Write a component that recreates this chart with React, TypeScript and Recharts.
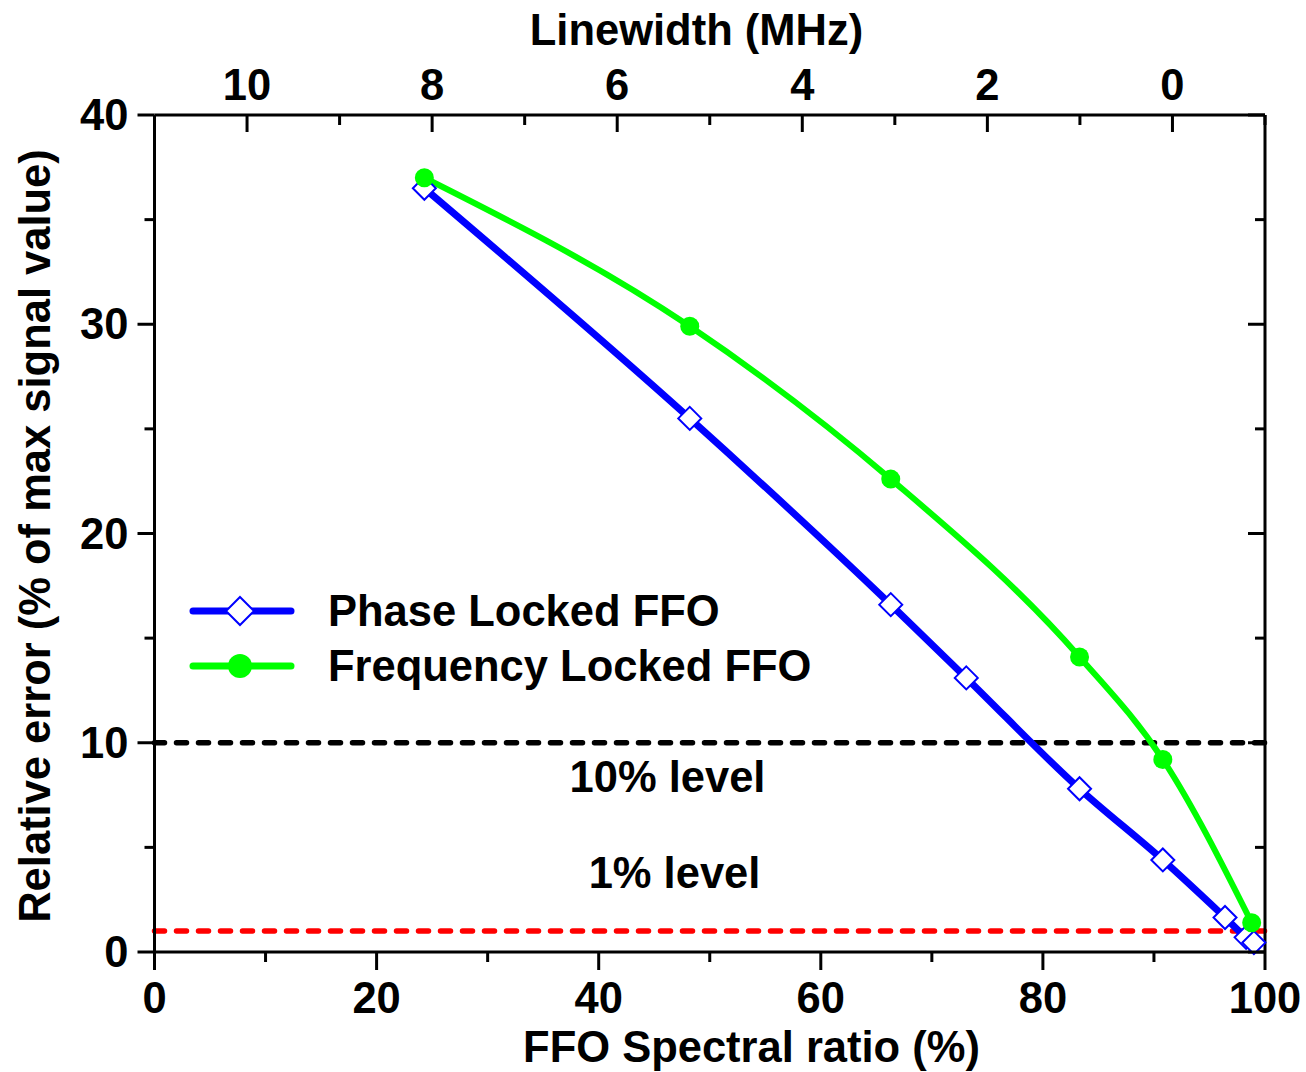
import { LineChart, Line, XAxis, YAxis, ReferenceLine, Legend } from 'recharts'

const FONT = "'Liberation Sans', Arial, Helvetica, sans-serif"
const BLUE = '#0000ff'
const GREEN = '#00ff00'

// axes
const ratioTicks = [0, 10, 20, 30, 40, 50, 60, 70, 80, 90, 100]
const ratioLabels = [0, 20, 40, 60, 80, 100]
const errorTicks = [0, 5, 10, 15, 20, 25, 30, 35, 40]
const errorLabels = [0, 10, 20, 30, 40]
const linewidthTicks = [11, 10, 9, 8, 7, 6, 5, 4, 3, 2, 1, 0, -1]
const linewidthLabels = [10, 8, 6, 4, 2, 0]

// series
const phaseRatio = [24.3, 48.2, 66.3, 73.1, 83.3, 90.8, 96.4, 98.3, 99.0]
const phaseError = [36.5, 25.5, 16.6, 13.1, 7.8, 4.4, 1.65, 0.7, 0.45]
const freqRatio = [24.3, 48.2, 66.3, 83.3, 90.8, 98.8]
const freqError = [37.0, 29.9, 22.6, 14.1, 9.2, 1.4]

const tenLevel = 10
const oneLevel = 1

const phaseData = phaseRatio.map((x, i) => ({ x, y: phaseError[i] }))
const freqData = freqRatio.map((x, i) => ({ x, y: freqError[i] }))

const txt = { fontFamily: FONT, fontWeight: 700, fontSize: 43.5, fill: '#000' }

const BottomTick = ({ x, y, payload }: any) => {
  const major = ratioLabels.includes(payload.value)
  return (
    <g>
      <line x1={x} x2={x} y1={y} y2={y + (major ? 18 : 10)} stroke="#000" strokeWidth={3} />
      {major && <text x={x} y={y + 61} textAnchor="middle" {...txt}>{payload.value}</text>}
    </g>
  )
}

const TopTick = ({ x, y, payload }: any) => {
  const major = linewidthLabels.includes(payload.value)
  return (
    <g>
      <line x1={x} x2={x} y1={y} y2={y + (major ? 17 : 10)} stroke="#000" strokeWidth={3} />
      {major && <text x={x} y={y - 15} textAnchor="middle" {...txt}>{payload.value}</text>}
    </g>
  )
}

const LeftTick = ({ x, y, payload }: any) => {
  const major = errorLabels.includes(payload.value)
  return (
    <g>
      <line x1={x} x2={x - (major ? 17 : 10)} y1={y} y2={y} stroke="#000" strokeWidth={3} />
      {major && <text x={x - 26} y={y + 15} textAnchor="end" {...txt}>{payload.value}</text>}
    </g>
  )
}

const RightTick = ({ x, y, payload }: any) => {
  const major = errorLabels.includes(payload.value)
  return <line x1={x} x2={x - (major ? 17 : 10)} y1={y} y2={y} stroke="#000" strokeWidth={3} />
}

const Diamond = (props: any) => {
  const { cx, cy, index } = props
  const h = 11.5
  return (
    <path
      key={`d-${index}`}
      d={`M${cx},${cy - h} L${cx + h},${cy} L${cx},${cy + h} L${cx - h},${cy} Z`}
      fill="#fff"
      stroke={BLUE}
      strokeWidth={2}
    />
  )
}

const LegendBox = () => (
  <svg width={660} height={120}>
    <line x1={8} x2={106} y1={31} y2={31} stroke={BLUE} strokeWidth={7} strokeLinecap="round" />
    <path d="M55,17 L69,31 L55,45 L41,31 Z" fill="#fff" stroke={BLUE} strokeWidth={2} />
    <text x={143} y={46} {...txt}>Phase Locked FFO</text>
    <line x1={8} x2={106} y1={86} y2={86} stroke={GREEN} strokeWidth={7} strokeLinecap="round" />
    <circle cx={55} cy={86} r={12} fill={GREEN} />
    <text x={143} y={101} {...txt}>Frequency Locked FFO</text>
  </svg>
)

export default function App() {
  return (
    <div style={{ position: 'absolute', left: 0, top: 0, background: '#fff' }}>
      <LineChart width={1306} height={1072} margin={{ top: 0, right: 0, bottom: 0, left: 0 }}>
        <XAxis
          xAxisId="b"
          dataKey="x"
          type="number"
          domain={[0, 100]}
          ticks={ratioTicks}
          interval={0}
          height={120}
          tickSize={0}
          tickMargin={0}
          tick={<BottomTick />}
          axisLine={{ stroke: '#000', strokeWidth: 3 }}
          label={({ viewBox }: any) => (
            <text x={(viewBox?.x ?? 154) + 597} y={(viewBox?.y ?? 952) + 110} textAnchor="middle" {...txt}>
              FFO Spectral ratio (%)
            </text>
          )}
        />
        <XAxis
          xAxisId="t"
          dataKey="x"
          orientation="top"
          type="number"
          domain={[-1, 11]}
          allowDataOverflow
          reversed
          ticks={linewidthTicks}
          interval={0}
          height={115}
          tickSize={0}
          tickMargin={0}
          tick={<TopTick />}
          axisLine={{ stroke: '#000', strokeWidth: 3 }}
          label={({ viewBox }: any) => (
            <text x={(viewBox?.x ?? 154) + 542} y={(viewBox?.y ?? 0) + 45} textAnchor="middle" {...txt}>
              Linewidth (MHz)
            </text>
          )}
        />
        <YAxis
          yAxisId="l"
          type="number"
          domain={[0, 40]}
          ticks={errorTicks}
          interval={0}
          width={154.5}
          tickSize={0}
          tickMargin={0}
          tick={<LeftTick />}
          axisLine={{ stroke: '#000', strokeWidth: 3 }}
          label={({ viewBox }: any) => {
            const cx = (viewBox?.x ?? 0) + 50
            const cy = (viewBox?.y ?? 115) + 421
            return (
              <text x={cx} y={cy} transform={`rotate(-90, ${cx}, ${cy})`} textAnchor="middle" {...txt}>
                Relative error (% of max signal value)
              </text>
            )
          }}
        />
        <YAxis
          yAxisId="r"
          orientation="right"
          type="number"
          domain={[0, 40]}
          allowDataOverflow
          ticks={errorTicks}
          interval={0}
          width={41}
          tickSize={0}
          tickMargin={0}
          tick={<RightTick />}
          axisLine={{ stroke: '#000', strokeWidth: 3 }}
        />

        <ReferenceLine
          xAxisId="b"
          yAxisId="l"
          y={tenLevel}
          stroke="#000"
          strokeWidth={5.5}
          strokeDasharray="10 12"
          strokeLinecap="round"
          label={({ viewBox }: any) => (
            <text x={(viewBox?.x ?? 154) + 513} y={(viewBox?.y ?? 743) + 49} textAnchor="middle" {...txt}>
              10% level
            </text>
          )}
        />
        <ReferenceLine
          xAxisId="b"
          yAxisId="l"
          y={oneLevel}
          stroke="#ff0000"
          strokeWidth={5.5}
          strokeDasharray="10 12"
          strokeLinecap="round"
          label={({ viewBox }: any) => (
            <text x={(viewBox?.x ?? 154) + 520} y={(viewBox?.y ?? 931) - 43} textAnchor="middle" {...txt}>
              1% level
            </text>
          )}
        />

        <Line
          xAxisId="b"
          yAxisId="l"
          data={phaseData}
          dataKey="y"
          type="monotone"
          stroke={BLUE}
          strokeWidth={7}
          dot={<Diamond />}
          activeDot={false}
          isAnimationActive={false}
        />
        <Line
          xAxisId="b"
          yAxisId="l"
          data={freqData}
          dataKey="y"
          type="monotone"
          stroke={GREEN}
          strokeWidth={6}
          dot={{ r: 9.5, fill: GREEN, stroke: GREEN, strokeWidth: 0 }}
          activeDot={false}
          isAnimationActive={false}
        />

        <Legend
          align="center"
          verticalAlign="middle"
          content={<LegendBox />}
          wrapperStyle={{ left: 185, top: 580, width: 660, height: 120 }}
        />
      </LineChart>
    </div>
  )
}
